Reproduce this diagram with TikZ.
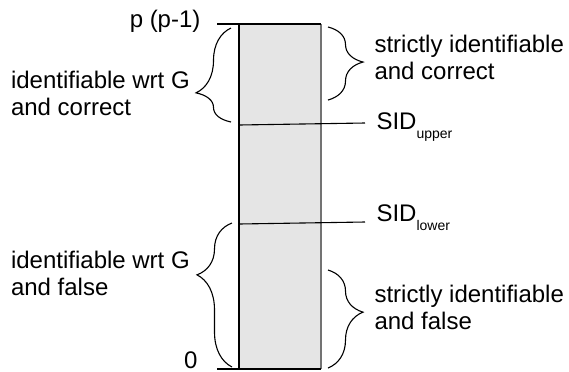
\documentclass[tikz,border=0pt]{standalone}
\usepackage{fontspec}
\setmainfont{Liberation Sans}
\usetikzlibrary{decorations.pathreplacing}

\newcommand{\sidsub}[1]{SID\raisebox{-4.5pt}{\fontsize{7}{8}\selectfont #1}}

\begin{document}
\begin{tikzpicture}[x=0.5pt,y=-0.5pt,line width=0.55pt,
    lbl/.style={inner sep=0pt,align=left,font=\fontsize{12}{13.5}\selectfont},
    brc/.style={decorate,decoration={brace,amplitude=17.5pt,aspect=#1}}]
  \useasboundingbox (0,0) rectangle (569,371);
  % the bar, 0 at the bottom, p(p-1) at the top
  \fill[black!10] (239,24) rectangle (321,369);
  \draw (239,24) -- (239,369);
  \draw[black!55] (321,24) -- (321,369);
  \draw (217,24) -- (321,24);
  \draw (217,369) -- (321,369);
  \node[lbl,anchor=base east] (top) at (201,27) {p (p-1)};
  \node[lbl,anchor=base east] (zero) at (198,368) {0};
  % thresholds
  \coordinate (up1) at (239,125);
  \coordinate (up2) at (365,123);
  \coordinate (lo1) at (239,224);
  \coordinate (lo2) at (365,222);
  \draw (up1) -- (up2);
  \draw (lo1) -- (lo2);
  \node[lbl,anchor=base west] (sidup) at (376,129) {\sidsub{upper}};
  \node[lbl,anchor=base west] (sidlo) at (376,221) {\sidsub{lower}};
  % braces, left side
  \draw[brc=0.31] (231,122) -- (231,28);
  \draw[brc=0.64] (232,367) -- (232,223);
  \node[lbl,anchor=north west] (idc) at (10.5,71) {identifiable wrt G\\and correct};
  \node[lbl,anchor=north west] (idf) at (10.5,250.5) {identifiable wrt G\\and false};
  % braces, right side
  \draw[brc=0.48] (328,27) -- (328,100);
  \draw[brc=0.43] (328,270) -- (328,368);
  \node[lbl,anchor=north west] (sic) at (374,35) {strictly identifiable\\and correct};
  \node[lbl,anchor=north west] (sif) at (374,284.5) {strictly identifiable\\and false};
\end{tikzpicture}
\end{document}
